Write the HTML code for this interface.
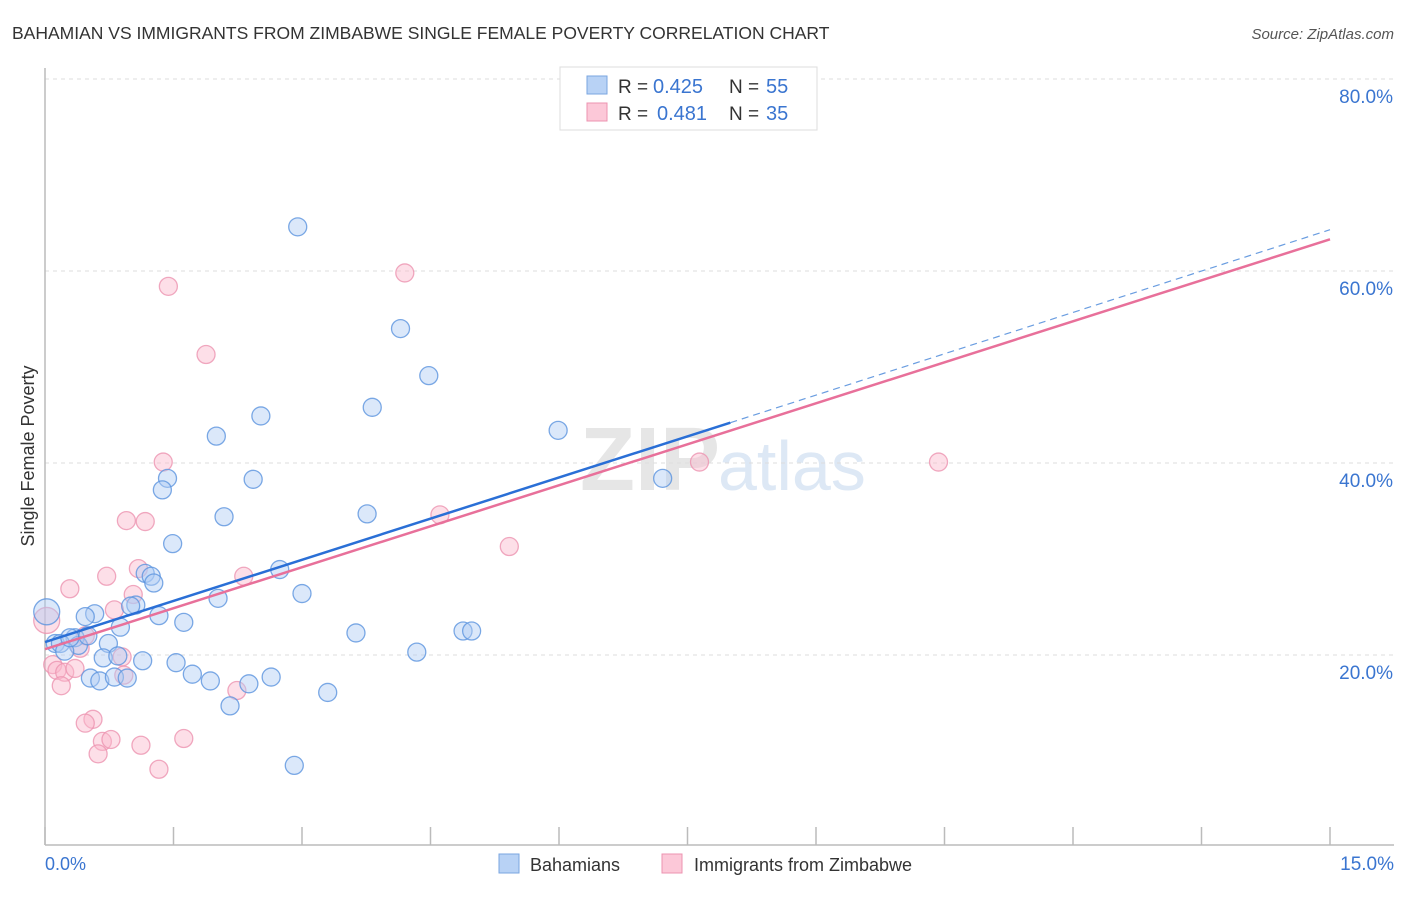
<!DOCTYPE html>
<html><head><meta charset="utf-8">
<style>
body{margin:0;background:#fff;font-family:"Liberation Sans",sans-serif;}
svg text{font-family:"Liberation Sans",sans-serif;}
</style></head>
<body>
<svg id="chart" width="1406" height="892">
<text x="12" y="39" font-size="17.5" fill="#333">BAHAMIAN VS IMMIGRANTS FROM ZIMBABWE SINGLE FEMALE POVERTY CORRELATION CHART</text>
<text x="1394" y="39" font-size="15" fill="#555" font-style="italic" text-anchor="end">Source: ZipAtlas.com</text>
<text x="720" y="490" font-size="90" fill="#e6e6e6" font-family="Liberation Serif" text-anchor="end" font-weight="bold">ZIP</text>
<text x="718" y="490" font-size="70" fill="#dde8f5">atlas</text>
<g id="grid"></g>
<line x1="45" y1="68" x2="45" y2="845" stroke="#bbb" stroke-width="1.5"/>
<line x1="45" y1="845" x2="1394" y2="845" stroke="#bbb" stroke-width="1.5"/>
<g id="xticks"></g>
<text x="45" y="870" font-size="18" fill="#3a75d0">0.0%</text>
<text x="1394" y="870" font-size="19" fill="#3a75d0" text-anchor="end">15.0%</text>
<text transform="translate(34,456) rotate(-90)" font-size="18" fill="#333" text-anchor="middle">Single Female Poverty</text>
<g id="points"></g>
<g id="lines"></g>
<g>
<rect x="560" y="67" width="257" height="63" fill="#fff" stroke="#ddd"/>
<rect x="587" y="76" width="20" height="18" fill="#b8d2f5" stroke="#7aa6e0"/>
<rect x="587" y="103" width="20" height="18" fill="#fcc8d8" stroke="#ec93b0"/>
<text x="618" y="93" font-size="19" fill="#333">R =</text>
<text x="653" y="93" font-size="20" fill="#3a75d0">0.425</text>
<text x="729" y="93" font-size="19" fill="#333">N =</text>
<text x="766" y="93" font-size="20" fill="#3a75d0">55</text>
<text x="618" y="120" font-size="19" fill="#333">R =</text>
<text x="657" y="120" font-size="20" fill="#3a75d0">0.481</text>
<text x="729" y="120" font-size="19" fill="#333">N =</text>
<text x="766" y="120" font-size="20" fill="#3a75d0">35</text>
</g>
<g>
<rect x="499" y="854" width="20" height="19" fill="#b8d2f5" stroke="#7aa6e0"/>
<text x="530" y="871" font-size="18" fill="#333">Bahamians</text>
<rect x="662" y="854" width="20" height="19" fill="#fcc8d8" stroke="#ec93b0"/>
<text x="694" y="871" font-size="18" fill="#333">Immigrants from Zimbabwe</text>
</g>
</svg>
<script>
const yTicks=[20,40,60,80];
const yTickLabels=["20.0%","40.0%","60.0%","80.0%"];
const xTicks=[0,1.5,3,4.5,6,7.5,9,10.5,12,13.5,15];
const bahX=[2.95,4.15,4.48,3.82,2.52,2.0,5.99,1.43,1.37,2.43,7.21,2.09,3.76,1.49,1.17,1.24,1.27,2.74,3.0,2.02,1.06,1.0,0.58,0.47,1.33,1.62,0.88,0.35,0.12,0.18,0.02,0.74,0.39,0.23,0.68,0.85,3.63,4.88,4.98,1.14,1.53,4.34,0.53,0.64,0.81,0.96,1.72,1.93,2.38,2.64,2.16,3.3,2.91,0.29,0.5];
const bahY=[64.6,54.0,49.1,45.8,44.9,42.8,43.4,38.4,37.2,38.3,38.4,34.4,34.7,31.6,28.5,28.2,27.5,28.9,26.4,25.9,25.2,25.1,24.3,24.0,24.1,23.4,22.9,21.8,21.2,21.2,24.5,21.2,21.0,20.4,19.7,19.9,22.3,22.5,22.5,19.4,19.2,20.3,17.6,17.3,17.7,17.6,18.0,17.3,17.0,17.7,14.7,16.1,8.5,21.8,22.0];
const zimX=[1.44,4.2,1.88,1.38,7.64,10.43,0.95,1.17,4.61,5.42,0.72,1.09,2.32,1.03,0.81,0.29,0.02,0.47,0.41,0.9,0.09,0.14,0.23,0.19,0.35,0.92,2.24,0.56,0.47,0.67,0.77,1.12,1.62,0.62,1.33];
const zimY=[58.4,59.8,51.3,40.1,40.1,40.1,34.0,33.9,34.6,31.3,28.2,29.0,28.2,26.3,24.7,26.9,23.6,22.0,20.7,19.8,19.0,18.4,18.2,16.8,18.6,17.9,16.3,13.3,12.9,11.0,11.2,10.6,11.3,9.7,8.1];
const bahLine=[0,21.35,8.0,44.2,15,64.3];
const zimLine=[0,20.6,15,63.3];
const NS='http://www.w3.org/2000/svg';
const X=v=>45+v/15*1285, Y=v=>847-v*9.6;
function mk(t,a,p){const e=document.createElementNS(NS,t);for(const k in a)e.setAttribute(k,a[k]);document.getElementById(p).appendChild(e);return e;}
yTicks.forEach((t,i)=>{
 const g=mk('line',{x1:45,x2:1394,y1:Y(t),y2:Y(t),stroke:'#ddd','stroke-dasharray':'4,4'},'grid');
 
 
 const l=mk('text',{x:1393,y:Y(t)+24,'font-size':19,fill:'#3a75d0','text-anchor':'end'},'grid');
 l.textContent=yTickLabels[i];
 
 
});
xTicks.forEach(t=>{
 const e=mk('line',{x1:X(t),x2:X(t),y1:827,y2:845,stroke:'#bbb','stroke-width':1.5},'xticks');
 
 
});
function pts(xs,ys,fill,stroke,name){
 xs.forEach((x,i)=>{
  const r=(x<0.05)?13:9;
  const c=mk('circle',{cx:X(x),cy:Y(ys[i]),r:r,fill:fill,'fill-opacity':0.45,stroke:stroke,'stroke-width':1.3,'stroke-opacity':0.8},'points');
  
  
 });
}
pts(zimX,zimY,'#fab8cc','#ec93b0','zimbabwe-point');
pts(bahX,bahY,'#b0cdf3','#5b93de','bahamian-point');
let l1=mk('line',{x1:X(bahLine[0]),y1:Y(bahLine[1]),x2:X(bahLine[2]),y2:Y(bahLine[3]),stroke:'#2a6fd6','stroke-width':2.5},'lines');


let l2=mk('line',{x1:X(bahLine[2]),y1:Y(bahLine[3]),x2:X(bahLine[4]),y2:Y(bahLine[5]),stroke:'#6a9de0','stroke-width':1.2,'stroke-dasharray':'7,5'},'lines');


let l3=mk('line',{x1:X(zimLine[0]),y1:Y(zimLine[1]),x2:X(zimLine[2]),y2:Y(zimLine[3]),stroke:'#e8709a','stroke-width':2.5},'lines');


</script>
</body></html>
